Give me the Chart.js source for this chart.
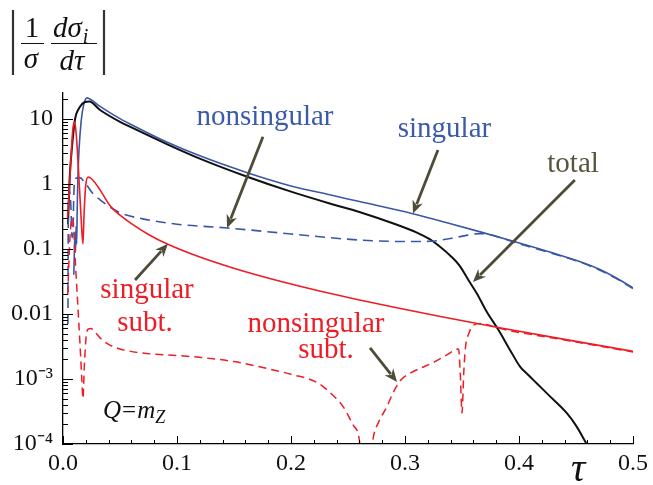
<!DOCTYPE html>
<html><head><meta charset="utf-8">
<script src="https://cdn.jsdelivr.net/npm/chart.js@4/dist/chart.umd.min.js"></script>
<style>html,body{margin:0;padding:0;background:#fff}#wrap{width:653px;height:485px;position:relative}</style>
</head><body><div id="wrap"><canvas id="c"></canvas></div>
<script>
// ---- axes ----
const xTickVals = [0, 0.1, 0.2, 0.3, 0.4, 0.5];
const xTickLabels = ['0.0', '0.1', '0.2', '0.3', '0.4', '0.5'];
const yTickVals = [1e-4, 1e-3, 1e-2, 0.1, 1, 10];
const yTickLabels = ['10\u207B\u2074', '10\u207B\u00B3', '0.01', '0.1', '1', '10'];

// ---- singular (blue solid) ----
const singTau = [0.0095,0.0105,0.011,0.0115,0.012,0.0125,0.013,0.014,0.016,0.018,0.021,0.025,0.0325,0.05,0.0614,0.091,0.12,0.161,0.2,0.234,0.26,0.306,0.34,0.366,0.395,0.43,0.455,0.47,0.485,0.5];
const singVal = [0.04,0.18,0.09,0.22,0.12,0.45,1.1,3.2,9.5,16,21,19.5,15.6,10.1,7.9,4.4,2.7,1.5,0.93,0.679,0.535,0.35,0.244,0.183,0.131,0.0863,0.0625,0.0491,0.036,0.0251];

// ---- nonsingular (blue dashed) ----
const nonsingTau = [0.0043,0.0047,0.0056,0.0068,0.008,0.0088,0.0095,0.0105,0.013,0.016,0.018,0.021,0.026,0.0325,0.05,0.07,0.1,0.144,0.2,0.26,0.3,0.322,0.34,0.355,0.366,0.375,0.395,0.43,0.455,0.47,0.485,0.5];
const nonsingVal = [0.007,0.45,0.8,0.5,0.15,0.2,0.7,1.15,1.25,1.22,1.1,0.95,0.72,0.57,0.36,0.29,0.24,0.21,0.17,0.137,0.13,0.131,0.145,0.163,0.172,0.165,0.128,0.0846,0.0613,0.048,0.0353,0.0246];

// ---- total (black) ----
const totalTau = [0.0044,0.0058,0.0079,0.0105,0.0149,0.0193,0.023,0.0325,0.05,0.0614,0.091,0.12,0.161,0.2,0.234,0.26,0.293,0.31,0.322,0.331,0.34,0.348,0.3556,0.3629,0.3717,0.3819,0.3921,0.4009,0.4082,0.4155,0.4272,0.4418,0.4506,0.4594,0.465];
const totalVal = [0.24,1.2,3.7,9.7,15.3,18.2,18.5,13.7,9.0,7.2,4.1,2.45,1.3,0.76,0.5,0.37,0.235,0.18,0.14,0.107,0.078,0.055,0.0333,0.0208,0.0108,0.0057,0.0028,0.00155,0.00115,0.00086,0.00054,0.0003,0.000185,0.0001,0.00007];

// ---- singular subt. (red solid) ----
const singSubTau = [0.004,0.0055,0.007,0.0085,0.0098,0.011,0.0125,0.014,0.0155,0.0168,0.0175,0.0185,0.0198,0.022,0.025,0.0325,0.037,0.041,0.044,0.05,0.06,0.075,0.091,0.12,0.149,0.193,0.225,0.26,0.296,0.331,0.383,0.44,0.5];
const singSubVal = [0.3,0.8,2.5,6.5,9,7.5,3.5,1.2,0.4,0.16,0.12,0.35,0.9,1.27,1.2,0.81,0.6,0.47,0.41,0.33,0.245,0.167,0.12,0.075,0.051,0.031,0.0226,0.01644,0.0121,0.00912,0.00614,0.00406,0.00266];

// ---- nonsingular subt. (red dashed) ----
const nonsingSubTau = [0.0042,0.0055,0.0068,0.0078,0.0088,0.0105,0.013,0.015,0.0165,0.0175,0.0188,0.0205,0.0225,0.0245,0.028,0.033,0.04,0.05,0.07,0.1,0.12,0.15,0.179,0.2,0.223,0.235,0.246,0.255,0.261,0.2645,0.269,0.272,0.277,0.284,0.2895,0.296,0.305,0.315,0.325,0.336,0.347,0.3485,0.35,0.3515,0.353,0.356,0.36,0.366,0.375,0.383,0.44,0.5];
const nonsingSubVal = [0.02,0.09,0.22,0.3,0.28,0.08,0.0135,0.0032,0.001,0.0005,0.0017,0.0048,0.0059,0.006,0.0053,0.0042,0.0034,0.0029,0.0025,0.0023,0.00215,0.00185,0.00145,0.00118,0.00088,0.0006,0.00037,0.00019,0.00008,0.000001,0.00004,0.00012,0.00022,0.00037,0.00061,0.00095,0.00124,0.0015,0.0018,0.0023,0.0029,0.0012,0.0003,0.0012,0.003,0.005,0.0067,0.0071,0.0066,0.006,0.00398,0.0026];

// ---- annotations (data coordinates) ----
const labelTexts = ['nonsingular','singular','total','singular','subt.','nonsingular','subt.'];
const labelTau   = [0.1772,0.3346,0.4474,0.0737,0.0719,0.2219,0.2307];
const labelVal   = [8.09,5.29,1.53,0.0176,0.00547,0.00528,0.0021];
const labelColor = ['#3b5aa9','#3b5aa9','#57543f','#ee1c25','#ee1c25','#ee1c25','#ee1c25'];
const arrowTailTau = [0.1754,0.3289,0.449,0.0632,0.2693];
const arrowTailVal = [5.29,3.33,1.152,0.0333,0.0030];
const arrowHeadTau = [0.1439,0.307,0.3596,0.0921,0.293];
const arrowHeadVal = [0.21,0.35,0.031,0.12,0.0009];

const BLUE = '#3a57a7', RED = '#ee1c25', BLACK = '#111111', ARROW = '#4e4c38';
const SERIF = '"Liberation Serif"';

function pts(t, v) { return t.map((x, i) => ({x: x, y: v[i]})); }

function drawArrow(ctx, x0, y0, x1, y1) {
  const a = Math.atan2(y1 - y0, x1 - x0), L = 13, W = 5.5;
  const bx = x1 - L * Math.cos(a), by = y1 - L * Math.sin(a);
  ctx.beginPath(); ctx.moveTo(x0, y0); ctx.lineTo(bx + 3 * Math.cos(a), by + 3 * Math.sin(a)); ctx.stroke();
  ctx.beginPath();
  ctx.moveTo(x1, y1);
  ctx.lineTo(bx + W * Math.sin(a), by - W * Math.cos(a));
  ctx.lineTo(bx + 4 * Math.cos(a), by + 4 * Math.sin(a));
  ctx.lineTo(bx - W * Math.sin(a), by + W * Math.cos(a));
  ctx.closePath(); ctx.fill();
}

const decor = {
  id: 'decor',
  beforeDraw(chart) {
    const ctx = chart.ctx;
    ctx.save(); ctx.fillStyle = '#fff'; ctx.fillRect(0, 0, chart.width, chart.height); ctx.restore();
  },
  afterDraw(chart) {
    const {ctx, chartArea: a, scales: {x, y}} = chart;
    ctx.save();
    ctx.strokeStyle = '#000'; ctx.lineWidth = 1;
    for (let i = 0; i <= 25; i++) {
      const px = Math.round(x.getPixelForValue(i * 0.02)) + 0.5;
      const len = (i % 5 === 0) ? 8 : 4;
      ctx.beginPath(); ctx.moveTo(px, a.bottom); ctx.lineTo(px, a.bottom - len); ctx.stroke();
    }
    for (let e = -4; e <= 1; e++) {
      for (let m = 1; m <= 9; m++) {
        const v = m * Math.pow(10, e);
        if (v > y.max) continue;
        const py = Math.round(y.getPixelForValue(v)) + 0.5;
        const len = (m === 1) ? 10 : 5;
        ctx.beginPath(); ctx.moveTo(a.left, py); ctx.lineTo(a.left + len, py); ctx.stroke();
      }
    }
    ctx.strokeStyle = ARROW; ctx.fillStyle = ARROW; ctx.lineWidth = 2.8; ctx.lineCap = 'butt';
    for (let i = 0; i < arrowTailTau.length; i++) {
      drawArrow(ctx, x.getPixelForValue(arrowTailTau[i]), y.getPixelForValue(arrowTailVal[i]),
                     x.getPixelForValue(arrowHeadTau[i]), y.getPixelForValue(arrowHeadVal[i]));
    }
    ctx.textAlign = 'center'; ctx.textBaseline = 'alphabetic';
    ctx.font = '29px ' + SERIF;
    for (let i = 0; i < labelTexts.length; i++) {
      ctx.fillStyle = labelColor[i];
      ctx.fillText(labelTexts[i], x.getPixelForValue(labelTau[i]), y.getPixelForValue(labelVal[i]));
    }
    ctx.fillStyle = '#111'; ctx.textAlign = 'left';
    let qx = x.getPixelForValue(0.0351), qy = y.getPixelForValue(2.5e-4);
    ctx.font = 'italic 25px ' + SERIF; ctx.fillText('Q', qx, qy); qx += ctx.measureText('Q').width + 1;
    ctx.font = '25px ' + SERIF; ctx.fillText('=', qx, qy); qx += ctx.measureText('=').width + 1;
    ctx.font = 'italic 25px ' + SERIF; ctx.fillText('m', qx, qy); qx += ctx.measureText('m').width;
    ctx.font = 'italic 18px ' + SERIF; ctx.fillText('Z', qx, qy + 5);
    ctx.font = 'italic 40px ' + SERIF; ctx.textAlign = 'center';
    ctx.fillText('\u03C4', x.getPixelForValue(0.4518), a.bottom + 37);
    ctx.strokeStyle = '#333'; ctx.lineWidth = 2.2;
    ctx.beginPath(); ctx.moveTo(13, 10); ctx.lineTo(13, 75); ctx.moveTo(104, 10); ctx.lineTo(104, 75); ctx.stroke();
    ctx.lineWidth = 1.2; ctx.strokeStyle = '#111';
    ctx.beginPath(); ctx.moveTo(21, 43.5); ctx.lineTo(44, 43.5); ctx.moveTo(51, 43.5); ctx.lineTo(97, 43.5); ctx.stroke();
    ctx.fillStyle = '#111';
    ctx.font = '29px ' + SERIF; ctx.textAlign = 'center'; ctx.fillText('1', 32, 37);
    ctx.font = 'italic 29px ' + SERIF; ctx.fillText('\u03C3', 31, 68);
    ctx.fillText('d\u03C4', 72, 70);
    ctx.textAlign = 'left'; ctx.fillText('d\u03C3', 53, 37);
    const w = ctx.measureText('d\u03C3').width;
    ctx.font = 'italic 20px ' + SERIF; ctx.fillText('i', 53 + w + 1, 43);
    ctx.restore();
  }
};

const ds = (label, t, v, color, width, dash) => ({
  label, data: pts(t, v), borderColor: color, borderWidth: width, borderDash: dash,
  pointRadius: 0, fill: false, cubicInterpolationMode: 'monotone', spanGaps: false
});

new Chart(document.getElementById('c'), {
  type: 'line',
  data: {
    datasets: [
      ds('nonsingular subt.', nonsingSubTau, nonsingSubVal, RED, 1.5, [8, 5]),
      ds('singular subt.', singSubTau, singSubVal, RED, 1.6, []),
      ds('nonsingular', nonsingTau, nonsingVal, BLUE, 1.6, [10, 6]),
      ds('total', totalTau, totalVal, BLACK, 2, []),
      ds('singular', singTau, singVal, BLUE, 1.6, [])
    ]
  },
  options: {
    responsive: true, maintainAspectRatio: false, animation: false,
    layout: {padding: {top: 93, right: 20, left: 0, bottom: 0}},
    plugins: {legend: {display: false}, tooltip: {enabled: false}},
    scales: {
      x: {
        type: 'linear', min: 0, max: 0.5,
        afterBuildTicks: s => { s.ticks = xTickVals.map(v => ({value: v})); },
        afterFit: s => { s.height = 41; },
        grid: {display: false, drawTicks: false},
        border: {display: true, color: '#000', width: 1.3},
        ticks: {autoSkip: false, maxRotation: 0, padding: 5, color: '#111',
          font: {family: SERIF, size: 24},
          callback: (v, i) => xTickLabels[i]}
      },
      y: {
        type: 'logarithmic', min: 1e-4, max: 25,
        afterBuildTicks: s => { s.ticks = yTickVals.map(v => ({value: v})); },
        afterFit: s => { s.width = 63; },
        grid: {display: false, drawTicks: false},
        border: {display: true, color: '#000', width: 1.3},
        ticks: {autoSkip: false, padding: 10, color: '#111',
          font: {family: SERIF, size: 24},
          callback: (v, i) => yTickLabels[i]}
      }
    }
  },
  plugins: [decor]
});
</script>
</body></html>
